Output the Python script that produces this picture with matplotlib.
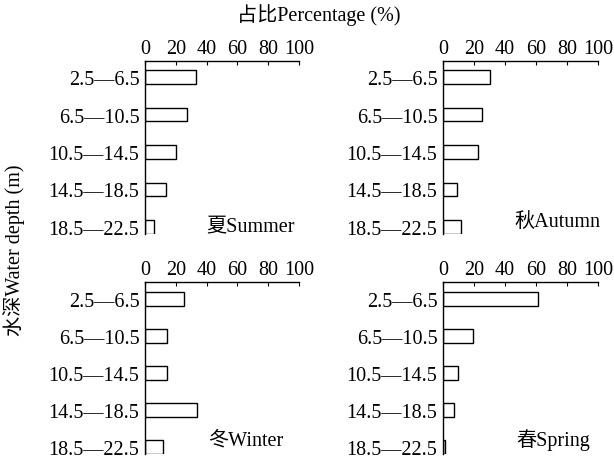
import matplotlib.pyplot as plt
import numpy as np

depths = ['2.5—6.5', '6.5—10.5', '10.5—14.5', '14.5—18.5', '18.5—22.5']
seasons = ['夏Summer', '秋Autumn', '冬Winter', '春Spring']
summer = [33, 27.5, 20, 13.5, 6]
autumn = [30, 25, 22.5, 9, 11.5]
winter = [25, 14.5, 14.5, 34, 11.5]
spring = [61.5, 19.5, 9.5, 7, 1]
values = [summer, autumn, winter, spring]

fonts = ['Liberation Serif', 'Noto Sans CJK SC']
plt.rcParams['font.family'] = fonts
plt.rcParams['font.size'] = 14.5

W, H = 614, 460
fig = plt.figure(figsize=(W / 100, H / 100), dpi=100)

# panel boxes in pixels: left, top, right, bottom
boxes = [(145, 62, 299, 235), (443, 62, 598, 235),
         (145, 283, 299, 455), (443, 283, 598, 455)]
ylims = [(4.19, -0.43), (4.19, -0.43), (4.19, -0.46), (4.19, -0.46)]
label_pos = [(40, 4.0), (46, 3.85), (41, 3.8), (47, 3.8)]

y = np.arange(len(depths))
for vals, name, (l, t, r, b), lim, (lx, ly) in zip(values, seasons, boxes, ylims, label_pos):
    ax = fig.add_axes([l / W, 1 - b / H, (r - l) / W, (b - t) / H])
    ax.barh(y, vals, height=0.36, color='white', edgecolor='black', linewidth=1)
    ax.set_xlim(0, 100)
    ax.set_ylim(*lim)
    ax.set_xticks([0, 20, 40, 60, 80, 100])
    ax.set_yticks(y)
    ax.set_yticklabels(depths)
    ax.xaxis.tick_top()
    ax.tick_params(axis='x', direction='in', length=3, pad=2, top=True, bottom=False)
    ax.tick_params(axis='y', length=0, pad=4)
    ax.spines['right'].set_visible(False)
    ax.spines['bottom'].set_visible(False)
    for s in ('left', 'top'):
        ax.spines[s].set_linewidth(1)
    ax.text(lx, ly, name, va='center', ha='left')

fig.text(319 / W, 1 - 15 / H, '占比Percentage (%)', ha='center', va='center')
fig.text(14 / W, 1 - 250 / H, '水深Water depth (m)', ha='center', va='center',
         rotation=90)

plt.savefig('out.png', dpi=100)
